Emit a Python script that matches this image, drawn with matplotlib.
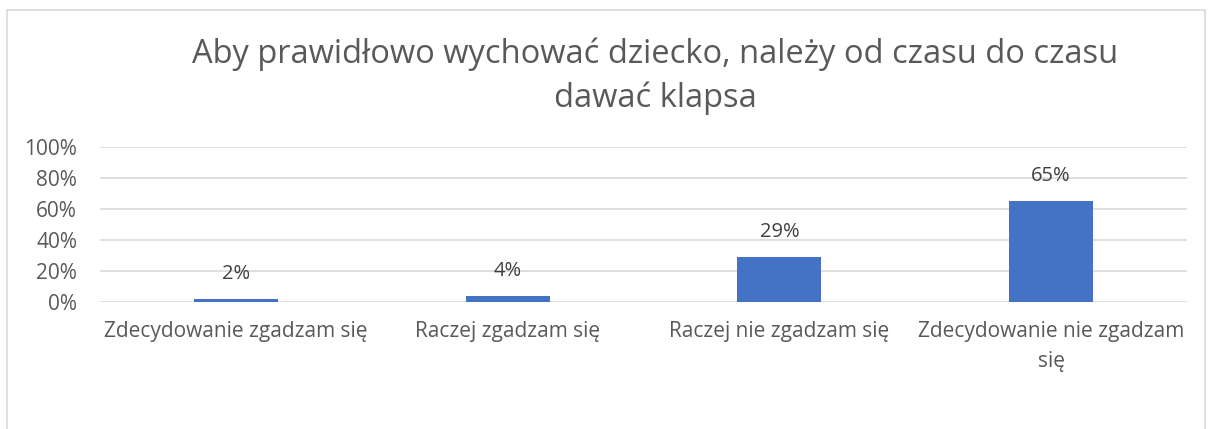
import matplotlib.pyplot as plt
from matplotlib.patches import Rectangle
from matplotlib.ticker import PercentFormatter

categories = ["Zdecydowanie zgadzam się", "Raczej zgadzam się",
              "Raczej nie zgadzam się", "Zdecydowanie nie zgadzam\nsię"]
values = [0.02, 0.04, 0.29, 0.65]
yticks = [0, 0.2, 0.4, 0.6, 0.8, 1.0]
title = "Aby prawidłowo wychować dziecko, należy od czasu do czasu\ndawać klapsa"

plt.rcParams['font.family'] = ['Open Sans', 'DejaVu Sans']
text_col = '#595959'
bar_col = '#4472C4'

W, H = 1213, 429
fig = plt.figure(figsize=(W / 100, H / 100), dpi=100)
ax = fig.add_axes([100 / W, 1 - 302 / H, 1087 / W, 155 / H])

x = range(len(categories))
ax.bar(x, values, width=0.31, color=bar_col, zorder=3)
for xi, v in zip(x, values):
    ax.annotate(f"{v:.0%}", (xi, v), xytext=(0, 18), textcoords='offset points',
                ha='center', va='center', fontsize=14.5, color='#404040')

ax.set_xlim(-0.5, len(categories) - 0.5)
ax.set_ylim(0, 1.0)
ax.set_yticks(yticks)
ax.yaxis.set_major_formatter(PercentFormatter(1.0, decimals=0))
ax.set_xticks(list(x))
ax.set_xticklabels(categories, fontsize=15, color=text_col, linespacing=1.55)
ax.tick_params(axis='y', labelsize=15, labelcolor=text_col, length=0, pad=16.5)
ax.tick_params(axis='x', length=0, pad=14)
ax.grid(axis='y', color='#d9d9d9', linewidth=1.2, zorder=0)
for s in ax.spines.values():
    s.set_visible(False)

fig.text(655 / W, 1 - 76 / H, title, ha='center', va='center', fontsize=23.5,
         color=text_col, linespacing=1.4)

fig.patches.append(Rectangle((7 / W, -0.05), 1198 / W, 1 - 10 / H + 0.05,
                             transform=fig.transFigure, fill=False,
                             edgecolor='#d9d9d9', linewidth=1.2))

fig.savefig('out.png', dpi=100)
